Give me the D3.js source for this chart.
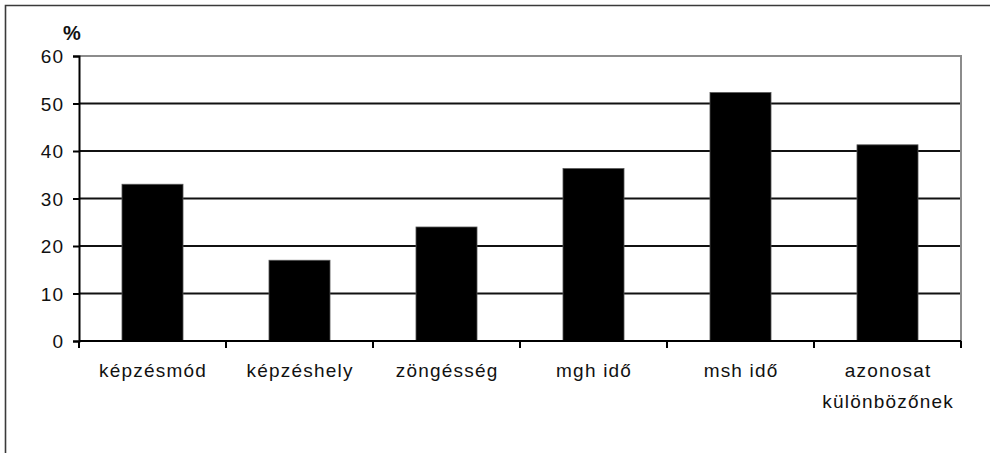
<!DOCTYPE html>
<html>
<head>
<meta charset="utf-8">
<script src="https://cdn.jsdelivr.net/npm/d3@7"></script>
<style>
  html, body { margin: 0; padding: 0; background: #fff; }
  svg { display: block; }
  text { font-family: "Liberation Sans", Arial, sans-serif; fill: #111; }
</style>
</head>
<body>
<svg id="chart" width="990" height="453"></svg>
<script>
// Categories and percentages
const categories = ["képzésmód", "képzéshely", "zöngésség", "mgh idő", "msh idő", "azonosat különbözőnek"];
const labelLines = [["képzésmód"], ["képzéshely"], ["zöngésség"], ["mgh idő"], ["msh idő"], ["azonosat", "különbözőnek"]];
const values = [33, 17, 24, 36.3, 52.3, 41.3];
const yTicks = [0, 10, 20, 30, 40, 50, 60];
const unitLabel = "%";

const svg = d3.select("#chart");
const plot = { left: 79, right: 961, top: 56, bottom: 341 };

const x = d3.scaleBand()
  .domain(categories)
  .range([plot.left, plot.right])
  .paddingInner(0.585)
  .paddingOuter(0.2925);

const y = d3.scaleLinear().domain([0, 60]).range([plot.bottom, plot.top]);

// Outer frame (top and left edges)
svg.append("path")
  .attr("d", "M5.5,453 L5.5,5.5 L990,5.5")
  .attr("fill", "none")
  .attr("stroke", "#3a3a3a")
  .attr("stroke-width", 1.6);

// Horizontal gridlines
svg.append("g")
  .selectAll("line")
  .data(yTicks.filter(d => d > 0 && d < 60))
  .join("line")
  .attr("x1", plot.left).attr("x2", plot.right)
  .attr("y1", d => y(d)).attr("y2", d => y(d))
  .attr("stroke", "#111").attr("stroke-width", 2);

// Plot area border (top and right)
svg.append("path")
  .attr("d", `M${plot.left},${y(60)} L${plot.right},${y(60)} L${plot.right},${plot.bottom}`)
  .attr("fill", "none")
  .attr("stroke", "#8c8c8c")
  .attr("stroke-width", 2);

// Bars
svg.append("g")
  .selectAll("rect")
  .data(values)
  .join("rect")
  .attr("x", (d, i) => x(categories[i]))
  .attr("width", x.bandwidth())
  .attr("y", d => y(d))
  .attr("height", d => y(0) - y(d))
  .attr("fill", "#000")
  .attr("stroke", "#555")
  .attr("stroke-width", 0.8);

// Y axis
const yAxis = d3.axisLeft(y)
  .tickValues(yTicks)
  .tickSize(6)
  .tickPadding(10)
  .tickFormat(d3.format("d"));

const gy = svg.append("g")
  .attr("transform", `translate(${plot.left},0)`)
  .call(yAxis);
gy.select(".domain").attr("stroke", "#000").attr("stroke-width", 2);
gy.selectAll(".tick line").attr("stroke", "#000").attr("stroke-width", 2);
gy.selectAll(".tick text")
  .attr("font-size", 19)
  .attr("letter-spacing", "1.2px")
  .attr("dx", "1.2px")
  .attr("dy", "0.36em")
  .attr("fill", "#111");

// X axis baseline with category boundary ticks
svg.append("line")
  .attr("x1", plot.left).attr("x2", plot.right)
  .attr("y1", y(0)).attr("y2", y(0))
  .attr("stroke", "#000").attr("stroke-width", 2);

const boundaries = categories.map(c => x(c) - x.step() * x.paddingInner() / 2);
boundaries.push(plot.right);
svg.append("g")
  .selectAll("line")
  .data(boundaries)
  .join("line")
  .attr("x1", d => d).attr("x2", d => d)
  .attr("y1", y(0)).attr("y2", y(0) + 7)
  .attr("stroke", "#000").attr("stroke-width", 2);

// Category labels
const labels = svg.append("g")
  .selectAll("text")
  .data(categories)
  .join("text")
  .attr("y", 377)
  .attr("text-anchor", "middle")
  .attr("font-size", 19)
  .attr("letter-spacing", "1.2px");

labels.each(function(c, i) {
  const t = d3.select(this);
  labelLines[i].forEach((line, j) => {
    t.append("tspan")
      .attr("x", x(c) + x.bandwidth() / 2 + 0.6)
      .attr("dy", j === 0 ? 0 : 31)
      .text(line);
  });
});

// Unit label
svg.append("text")
  .attr("x", 63)
  .attr("y", 40)
  .attr("font-size", 20)
  .attr("font-weight", "bold")
  .text(unitLabel);
</script>
</body>
</html>
